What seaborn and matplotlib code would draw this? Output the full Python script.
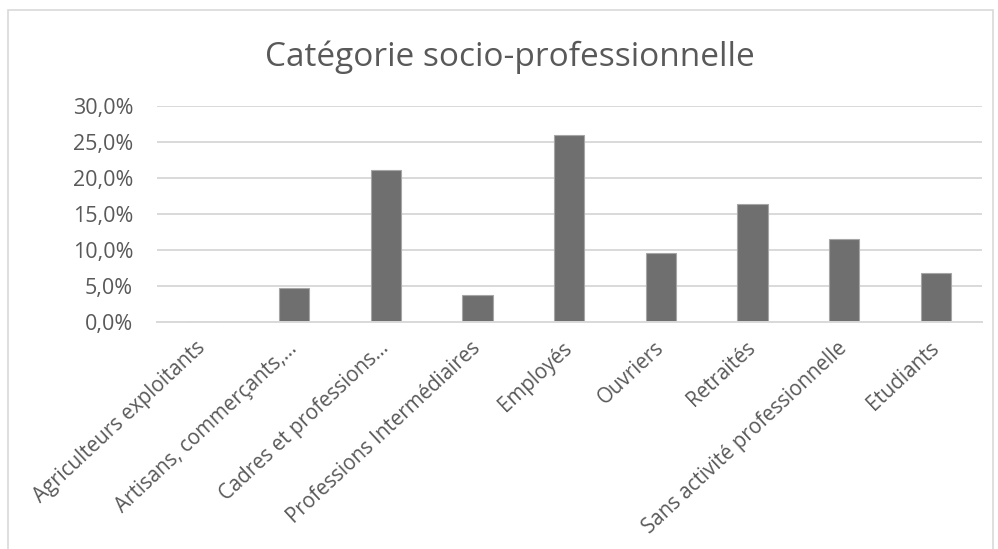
import matplotlib
matplotlib.use('Agg')
import matplotlib.pyplot as plt
import seaborn as sns
import pandas as pd
from matplotlib.ticker import FuncFormatter
from matplotlib.patches import Rectangle

# categories and share (%)
categories = ['Agriculteurs exploitants', 'Artisans, commerçants,…', 'Cadres et professions…',
              'Professions Intermédiaires', 'Employés', 'Ouvriers', 'Retraités',
              'Sans activité professionnelle', 'Etudiants']
shares = [0.0, 4.7, 21.0, 3.7, 25.9, 9.6, 16.35, 11.45, 6.7]
y_ticks = [0, 5, 10, 15, 20, 25, 30]
title = 'Catégorie socio-professionnelle'

df = pd.DataFrame({'cat': categories, 'share': shares})

sns.set_style('white')
plt.rcParams['font.family'] = ['Open Sans', 'DejaVu Sans']
text_col = '#595959'
grid_col = '#d9d9d9'

fig = plt.figure(figsize=(9.98, 5.49), dpi=100)
ax = fig.add_axes([0.157, 0.414, 0.8267, 0.3935])

sns.barplot(data=df, x='cat', y='share', color='#6f6f6f', width=0.33,
            edgecolor='#a6a6a6', linewidth=0.8, saturation=1, ax=ax)

ax.set_ylim(0, 30)
ax.set_yticks(y_ticks)
ax.yaxis.set_major_formatter(FuncFormatter(lambda v, p: f'{v:.1f}%'.replace('.', ',')))
ax.grid(axis='y', color=grid_col, linewidth=1.4)
ax.set_axisbelow(True)
for s in ['top', 'right', 'left']:
    ax.spines[s].set_visible(False)
ax.spines['bottom'].set_color(grid_col)
ax.spines['bottom'].set_linewidth(1.4)
ax.tick_params(axis='both', length=0, colors=text_col)
ax.tick_params(axis='y', pad=17, labelsize=15.5)
ax.tick_params(axis='x', pad=17, labelsize=14.8)
ax.set_xlabel('')
ax.set_ylabel('')
plt.setp(ax.get_xticklabels(), rotation=43, ha='right', va='center',
         rotation_mode='anchor')

fig.text(0.511, 0.895, title, ha='center', va='center', fontsize=24, color=text_col)

# light chart frame
fig.patches.append(Rectangle((8 / 998, -0.02), 985 / 998, 1 - 10 / 549 + 0.02,
                             transform=fig.transFigure, fill=False,
                             edgecolor=grid_col, linewidth=1.2))

fig.savefig('out.png', dpi=100)
